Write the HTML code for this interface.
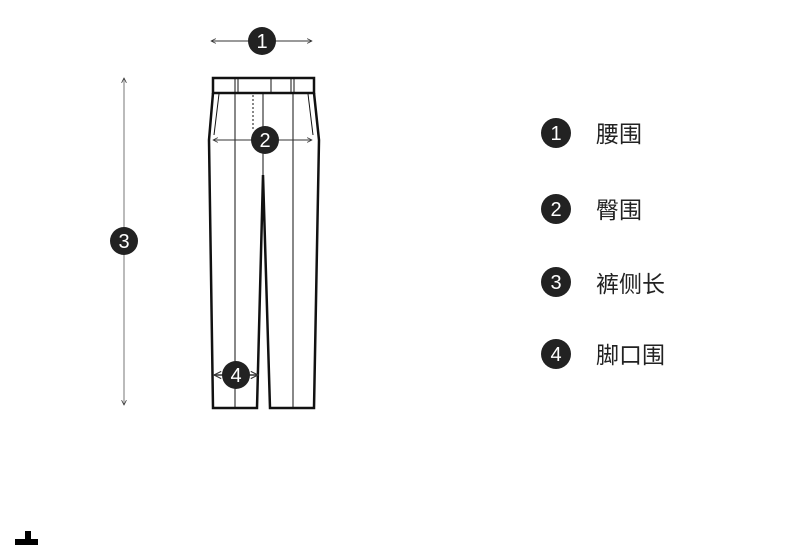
<!DOCTYPE html>
<html><head><meta charset="utf-8"><style>
html,body{margin:0;padding:0;background:#fff;width:790px;height:545px;overflow:hidden}
text{font-family:"Liberation Sans","Noto Sans CJK SC",sans-serif}
</style></head><body>
<svg width="790" height="545" viewBox="0 0 790 545" xmlns="http://www.w3.org/2000/svg">
<defs>
<marker id="a" viewBox="0 0 10 10" refX="9" refY="5" markerWidth="6" markerHeight="6" orient="auto-start-reverse"><path d="M1 1 L9 5 L1 9" fill="none" stroke="#333" stroke-width="1.3"/></marker>
</defs>
<g fill="none" stroke="#111">
<rect x="213" y="78" width="101" height="15" stroke-width="2.5"/>
<path d="M213 93 L209 140 L213 408 L257 408 L263 175 L270 408 L314 408 L319 140 L314 93" stroke-width="2.5" stroke-linejoin="miter"/>
<g stroke-width="1">
<line x1="235" y1="78" x2="235" y2="93"/><line x1="238" y1="78" x2="238" y2="93"/>
<line x1="271" y1="78" x2="271" y2="93"/>
<line x1="291" y1="78" x2="291" y2="93"/><line x1="294" y1="78" x2="294" y2="93"/>
<line x1="235" y1="93" x2="235" y2="408"/>
<line x1="293" y1="93" x2="293" y2="408"/>
<line x1="263" y1="93" x2="263" y2="175"/>
<line x1="253" y1="95" x2="253" y2="130" stroke-dasharray="2,2"/>
<line x1="219" y1="94" x2="214" y2="135"/>
<line x1="308" y1="94" x2="313" y2="135"/>
</g>
</g>
<g stroke="#333" stroke-width="1" fill="none">
<line x1="211" y1="41" x2="312" y2="41" marker-start="url(#a)" marker-end="url(#a)"/>
<line x1="213" y1="140" x2="312" y2="140" marker-start="url(#a)" marker-end="url(#a)"/>
<line x1="124" y1="78" x2="124" y2="405" marker-start="url(#a)" marker-end="url(#a)" stroke="#777"/>
<line x1="214" y1="375" x2="258" y2="375" marker-start="url(#a)" marker-end="url(#a)" stroke-width="1.5"/>
</g>
<g fill="#222">
<circle cx="262" cy="41" r="14"/><circle cx="265" cy="140" r="14"/>
<circle cx="124" cy="241" r="14"/><circle cx="236" cy="375" r="14"/>
<circle cx="556" cy="133" r="15"/><circle cx="556" cy="209" r="15"/>
<circle cx="556" cy="282" r="15"/><circle cx="556" cy="354" r="15"/>
</g>
<g fill="#fff" font-size="20" text-anchor="middle">
<text x="262" y="48">1</text><text x="265" y="147">2</text>
<text x="124" y="248">3</text><text x="236" y="382">4</text>
<text x="556" y="140">1</text><text x="556" y="216">2</text>
<text x="556" y="289">3</text><text x="556" y="361">4</text>
</g>
<g fill="#222" font-size="23">
<text x="596" y="142">腰围</text>
<text x="596" y="218">臀围</text>
<text x="596" y="292">裤侧长</text>
<text x="596" y="363">脚口围</text>
</g>
<rect x="25" y="531" width="6" height="9" fill="#000"/>
<rect x="15" y="539" width="23" height="6" fill="#000"/>
</svg>
</body></html>
